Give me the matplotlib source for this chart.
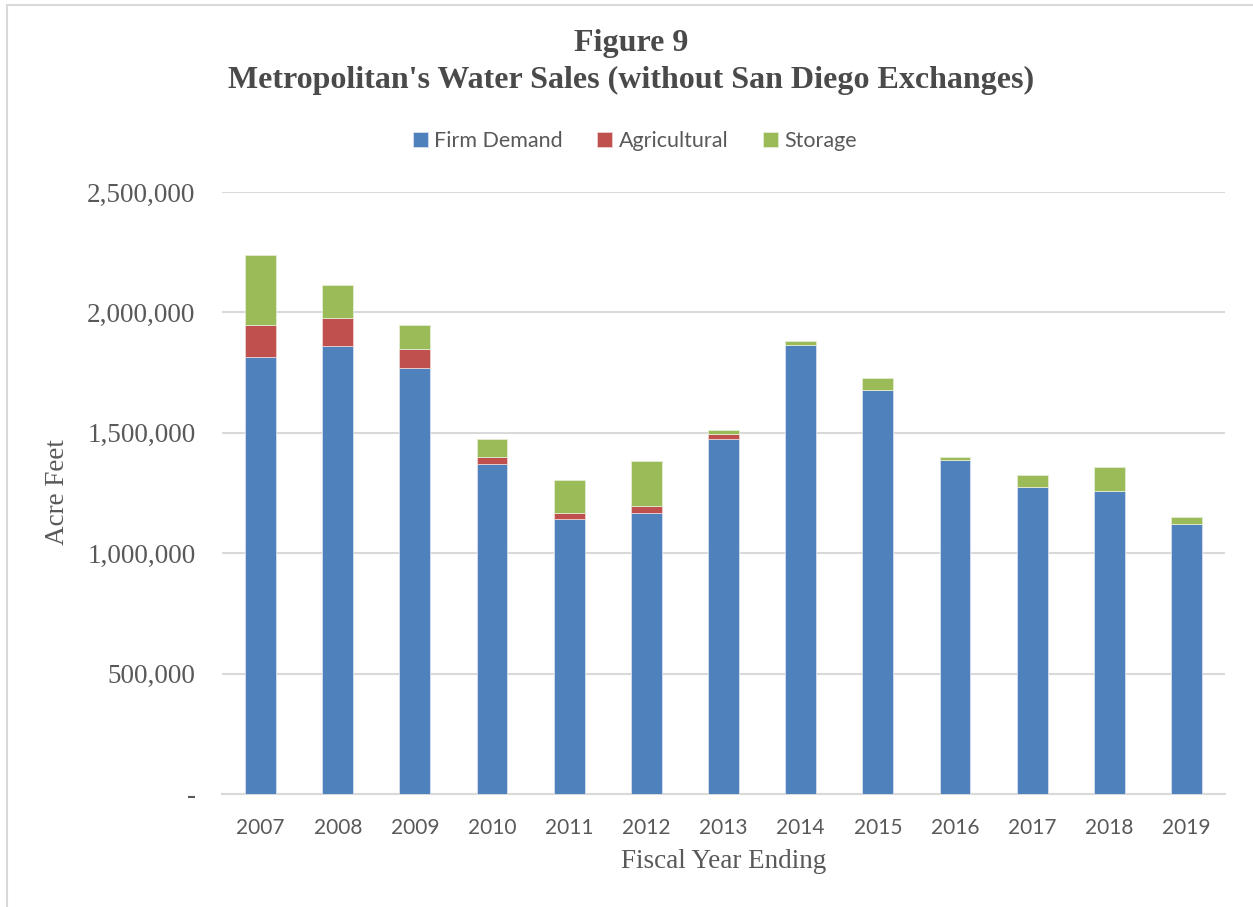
import numpy as np
import matplotlib.pyplot as plt
from matplotlib.patches import Rectangle
from matplotlib.ticker import FuncFormatter

# === Data (acre feet) ===
years = ['2007', '2008', '2009', '2010', '2011', '2012', '2013',
         '2014', '2015', '2016', '2017', '2018', '2019']
firm_demand = [1815000, 1861000, 1768000, 1369000, 1144000, 1166000, 1473000,
               1863000, 1679000, 1388000, 1276000, 1260000, 1120000]
agricultural = [134000, 117000, 81000, 32000, 22000, 30000, 23000,
                0, 0, 0, 0, 0, 0]
storage = [291000, 136000, 98000, 72000, 138000, 186000, 14000,
           17000, 49000, 11000, 50000, 96000, 30000]

blue = '#4F81BD'
red = '#C0504D'
green = '#9BBB59'
grey_txt = '#595959'
grid_col = '#D9D9D9'

serif = ['Liberation Serif', 'DejaVu Serif']
sans = ['Lato', 'DejaVu Sans']

fig = plt.figure(figsize=(12.53, 9.07), dpi=100)
ax = fig.add_axes([222 / 1253, 1 - 794 / 907, 1003 / 1253, 602 / 907])

x = np.arange(len(years))
w = 0.4
firm = np.array(firm_demand)
ag = np.array(agricultural)
st = np.array(storage)
ax.bar(x, firm, w, color=blue, edgecolor='#D6E0EE', linewidth=0.6, label='Firm Demand', zorder=3)
ax.bar(x, ag, w, bottom=firm, color=red, edgecolor='#EAD2D1', linewidth=0.6, label='Agricultural', zorder=3)
ax.bar(x, st, w, bottom=firm + ag, color=green, edgecolor='#E3ECD3', linewidth=0.6, label='Storage', zorder=3)

ax.set_xlim(-0.5, len(years) - 0.5)
ax.set_ylim(0, 2500000)
ax.set_yticks(np.arange(0, 2500001, 500000))
ax.yaxis.set_major_formatter(FuncFormatter(lambda v, p: '-' if v == 0 else f'{int(v):,}'))
ax.set_xticks(x)
ax.set_xticklabels(years)

ax.grid(axis='y', color=grid_col, linewidth=1.5, zorder=0)
for s in ['top', 'right', 'left']:
    ax.spines[s].set_visible(False)
ax.spines['bottom'].set_color(grid_col)
ax.spines['bottom'].set_linewidth(1.5)
ax.tick_params(axis='both', length=0)
ax.tick_params(axis='y', pad=19, labelsize=19.5, labelcolor=grey_txt)
ax.tick_params(axis='x', pad=17, labelsize=15, labelcolor=grey_txt)
for lbl in ax.get_yticklabels():
    lbl.set_family(serif)
for lbl in ax.get_xticklabels():
    lbl.set_family(sans)

fig.text(57 / 1253, 1 - 492 / 907, 'Acre Feet', rotation=90, ha='center', va='center',
         fontsize=19.5, color=grey_txt, family=serif)
fig.text(724 / 1253, 1 - 862 / 907, 'Fiscal Year Ending', ha='center', va='center',
         fontsize=19.5, color=grey_txt, family=serif)

fig.text(631 / 1253, 1 - 44 / 907, 'Figure 9', ha='center', va='center',
         fontsize=23, fontweight='bold', color='#4A4A4A', family=serif)
fig.text(631 / 1253, 1 - 80 / 907, "Metropolitan's Water Sales (without San Diego Exchanges)",
         ha='center', va='center', fontsize=23, fontweight='bold', color='#4A4A4A', family=serif)

leg = fig.legend(loc='center', bbox_to_anchor=(635 / 1253, 1 - 141 / 907), ncol=3,
                 frameon=False, prop={'family': sans, 'size': 15.5},
                 handlelength=0.7, handleheight=0.7, handletextpad=0.3, columnspacing=1.6)
for t in leg.get_texts():
    t.set_color(grey_txt)

# light frame around the chart area
fig.patches.append(Rectangle((7 / 1253, -0.1), 1.2, 1 - 5 / 907 + 0.1, transform=fig.transFigure,
                             fill=False, edgecolor='#D9D9D9', linewidth=1.5))

fig.savefig('out.png', dpi=100)
